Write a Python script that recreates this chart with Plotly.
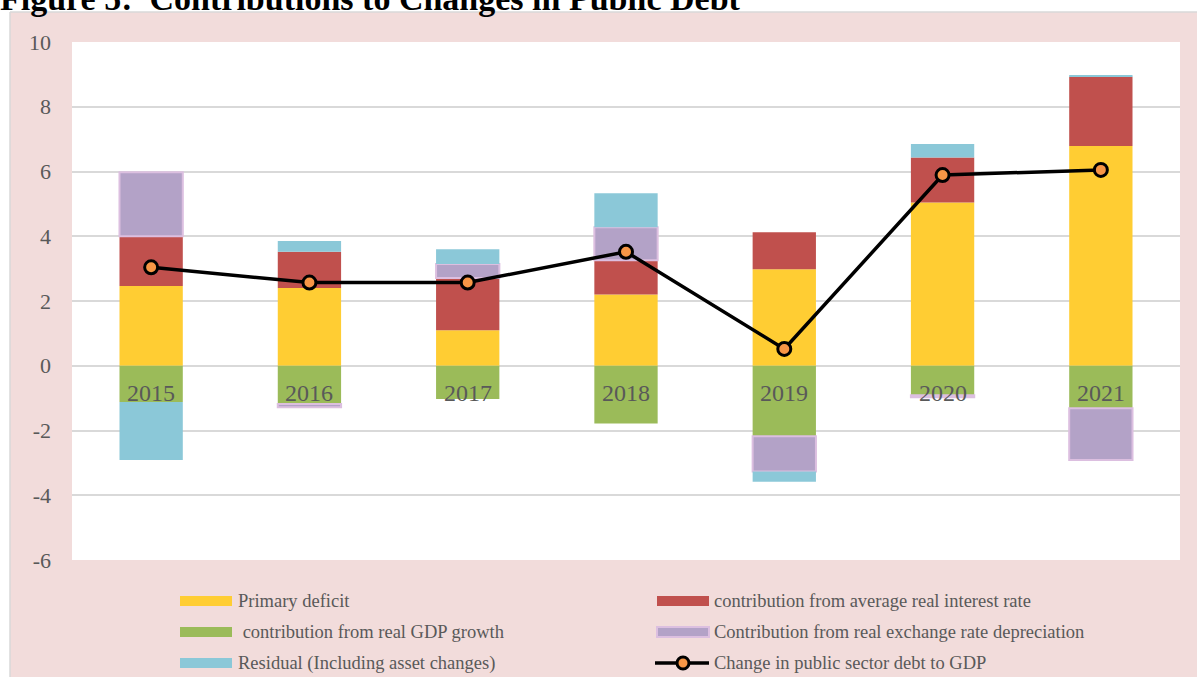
import plotly.graph_objects as go

years = ["2015", "2016", "2017", "2018", "2019", "2020", "2021"]
primary_deficit = [2.46, 2.40, 1.10, 2.20, 2.98, 5.04, 6.79]
interest_rate = [1.54, 1.12, 1.61, 1.06, 1.14, 1.39, 2.14]
gdp_growth = [-1.12, -1.18, -1.03, -1.78, -2.18, -0.91, -1.31]
exchange_rate = [1.98, -0.10, 0.43, 1.02, -1.09, -0.06, -1.60]
residual = [-1.79, 0.33, 0.46, 1.05, -0.31, 0.42, 0.04]
debt_change = [3.04, 2.57, 2.57, 3.52, 0.52, 5.89, 6.05]

y_ticks = [-6, -4, -2, 0, 2, 4, 6, 8, 10]
y_tick_labels = ["-6", "-4", "-2", "0", "2", "4", "6", "8", "10"]

series_names = [
    "Primary deficit",
    "contribution from average real interest rate",
    " contribution from real GDP growth",
    "Contribution from real exchange rate depreciation",
    "Residual (Including asset changes)",
    "Change in public sector debt to GDP",
]

C_YEL = "#ffcd33"
C_RED = "#c0504d"
C_GRN = "#9bbb59"
C_PUR = "#b3a2c7"
C_PUR_EDGE = "#dcbfe0"
C_CYN = "#8bc8d8"
C_ORG = "#f79646"
C_PINK = "#f2dcdb"
TXT = "#595959"
FONT = "Liberation Serif"

W, H = 1197, 677
L, R, T, B = 72, 17, 42, 117
PW, PH = W - L - R, H - T - B


def px(x):
    return (x - L) / PW


def py(y):
    return (H - B - y) / PH


fig = go.Figure()
bar_specs = [
    (primary_deficit, C_YEL, None),
    (interest_rate, C_RED, None),
    (gdp_growth, C_GRN, None),
    (exchange_rate, C_PUR, C_PUR_EDGE),
    (residual, C_CYN, None),
]
for i, (vals, col, border) in enumerate(bar_specs):
    fig.add_trace(go.Bar(
        x=years, y=vals, name=series_names[i],
        marker=dict(color=col,
                    line=dict(color=border if border else col, width=2 if border else 0)),
        width=0.4, showlegend=False,
    ))

fig.add_trace(go.Scatter(
    x=years, y=debt_change, name=series_names[5], mode="lines+markers",
    line=dict(color="black", width=3.5),
    marker=dict(size=13, color=C_ORG, line=dict(color="black", width=3)),
    showlegend=False,
))

annotations = []
for i, yr in enumerate(years):
    annotations.append(dict(
        x=i, y=0, xref="x", yref="y", text=yr, showarrow=False,
        yanchor="middle", yshift=-27, font=dict(family=FONT, size=24, color=TXT),
    ))

# Title (partly cut at the top of the page)
annotations.append(dict(
    x=px(-2), y=py(19), xref="paper", yref="paper", xanchor="left", yanchor="bottom",
    text="<b>Figure 5:  Contributions to Changes in Public Debt</b>", showarrow=False,
    font=dict(family=FONT, size=34, color="black"),
))

shapes = [
    dict(type="rect", xref="paper", yref="paper", x0=px(-5), x1=px(W + 5),
         y0=py(12), y1=py(-5), fillcolor="white", line=dict(width=0), layer="below"),
    dict(type="rect", xref="paper", yref="paper", x0=px(-5), x1=px(10),
         y0=py(H + 5), y1=py(-5), fillcolor="white", line=dict(width=0), layer="below"),
    dict(type="line", xref="paper", yref="paper", x0=px(10), x1=px(W + 5),
         y0=py(12), y1=py(12), line=dict(color="#d9d9d9", width=1.5), layer="below"),
    dict(type="line", xref="paper", yref="paper", x0=px(10), x1=px(10),
         y0=py(12), y1=py(H + 5), line=dict(color="#d9d9d9", width=1.5), layer="below"),
]

# Custom legend
rows = [601, 632, 663]
cols = [(180, 232, 236), (657, 709, 712)]
leg_items = [
    (series_names[0], C_YEL, "bar"), (series_names[1], C_RED, "bar"),
    (series_names[2], C_GRN, "bar"), (series_names[3], C_PUR, "pur"),
    (series_names[4], C_CYN, "bar"), (series_names[5], None, "line"),
]
for k, (name, col, kind) in enumerate(leg_items):
    r, c = divmod(k, 2)
    yc = rows[r]
    x0, x1, xt = cols[c]
    if kind == "line":
        shapes.append(dict(type="line", xref="paper", yref="paper",
                           x0=px(x0 - 2), x1=px(x1), y0=py(yc), y1=py(yc),
                           line=dict(color="black", width=3.5)))
        shapes.append(dict(type="circle", xref="paper", yref="paper",
                           x0=px((x0 + x1) / 2 - 6), x1=px((x0 + x1) / 2 + 6),
                           y0=py(yc + 6), y1=py(yc - 6), fillcolor=C_ORG,
                           line=dict(color="black", width=3)))
    else:
        shapes.append(dict(type="rect", xref="paper", yref="paper",
                           x0=px(x0), x1=px(x1), y0=py(yc + 5), y1=py(yc - 5),
                           fillcolor=col,
                           line=dict(color=C_PUR_EDGE if kind == "pur" else col,
                                     width=2 if kind == "pur" else 0)))
    annotations.append(dict(
        x=px(xt), y=py(yc), xref="paper", yref="paper", xanchor="left", yanchor="middle",
        text=name, showarrow=False, font=dict(family=FONT, size=18.5, color=TXT),
    ))

fig.update_layout(
    width=W, height=H,
    margin=dict(l=L, r=R, t=T, b=B),
    paper_bgcolor=C_PINK, plot_bgcolor="white",
    barmode="relative",
    showlegend=False,
    annotations=annotations, shapes=shapes,
    xaxis=dict(type="category", range=[-0.5, len(years) - 0.5], autorange=False,
               showticklabels=False, showgrid=False, zeroline=False,
               showline=False, ticks=""),
    yaxis=dict(range=[-6, 10], autorange=False, tickvals=y_ticks, ticktext=y_tick_labels,
               showgrid=True, gridcolor="#d9d9d9",
               gridwidth=1.5, zeroline=True, zerolinecolor="#d9d9d9", zerolinewidth=1.5,
               showline=False, ticks="", ticklabelstandoff=20,
               tickfont=dict(family=FONT, size=22, color=TXT)),
)

fig.write_html("out.html", config={"displayModeBar": False},
               post_script="document.body.style.margin='0';")
